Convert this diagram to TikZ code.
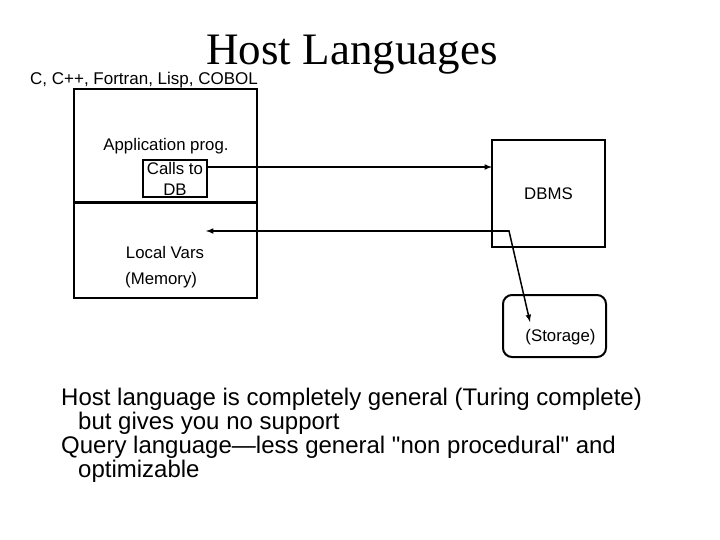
\documentclass[tikz,border=0pt]{standalone}
\usepackage{fontspec}
\setmainfont{Liberation Sans}
\newfontfamily\titlefont{Liberation Serif}
\newfontfamily\quotefont{Liberation Sans}[Ligatures=TeXOff]
\usetikzlibrary{arrows}

\tikzset{
	box/.style={draw, line width=2pt, outer sep=0pt, inner sep=0pt},
	lbl/.style={font=\fontsize{16.8}{21}\selectfont, inner sep=0pt, align=center},
	note/.style={font=\fontsize{24}{24}\selectfont, inner sep=0pt, anchor=base west},
	arr/.style={line width=1.5pt},
}

\begin{document}
\begin{tikzpicture}[x=1pt,y=-1pt]
	\useasboundingbox (0,0) rectangle (720,540);
	\node[font=\titlefont\fontsize{45}{45}\selectfont, anchor=base, inner sep=0pt] (title) at (352,65) {Host Languages};
	\node[font=\fontsize{17}{17}\selectfont, anchor=base west, inner sep=0pt] (langs) at (30,85) {C, C++, Fortran, Lisp, COBOL};

	% program box, split in two
	\node[box, minimum width=183, minimum height=209, anchor=north west] (app) at (74,89) {};
	\draw[line width=3pt] (app.west |- 0,203) -- (app.east |- 0,203);
	\node[lbl] (prog) at (166,146) {Application prog.};
	\node[box, lbl, minimum width=64, minimum height=37] (calls) at (175,178.5) {Calls to\\DB};
	\node[lbl] (vars) at (165,252) {Local Vars};
	\node[lbl, anchor=west] (mem) at (125,280) {(Memory)};

	\node[box, lbl, minimum width=113, minimum height=107] (dbms) at (548.5,193.5) {DBMS};
	\node[box, rounded corners=9pt, minimum width=103, minimum height=62] (store) at (554.5,326) {};
	\node[lbl] (storelbl) at (560.5,337) {(Storage)};

	\draw[arr, arrows=-latex] (calls.east |- 0,167) -- (dbms.west |- 0,167);
	\coordinate (bend) at (509,231);
	\coordinate (vartip) at (206,231);
	\coordinate (storetip) at (530,322);
	\draw[arr, arrows=latex-latex] (vartip) -- (bend) -- (storetip);

	\node[note] (note1) at (61,405) {Host language is completely general (Turing complete)};
	\node[note] (note2) at (78,429) {but gives you no support};
	\node[note] (note3) at (61,453) {Query language---less general {\quotefont"}non procedural{\quotefont"} and};
	\node[note] (note4) at (78,477) {optimizable};
\end{tikzpicture}
\end{document}
